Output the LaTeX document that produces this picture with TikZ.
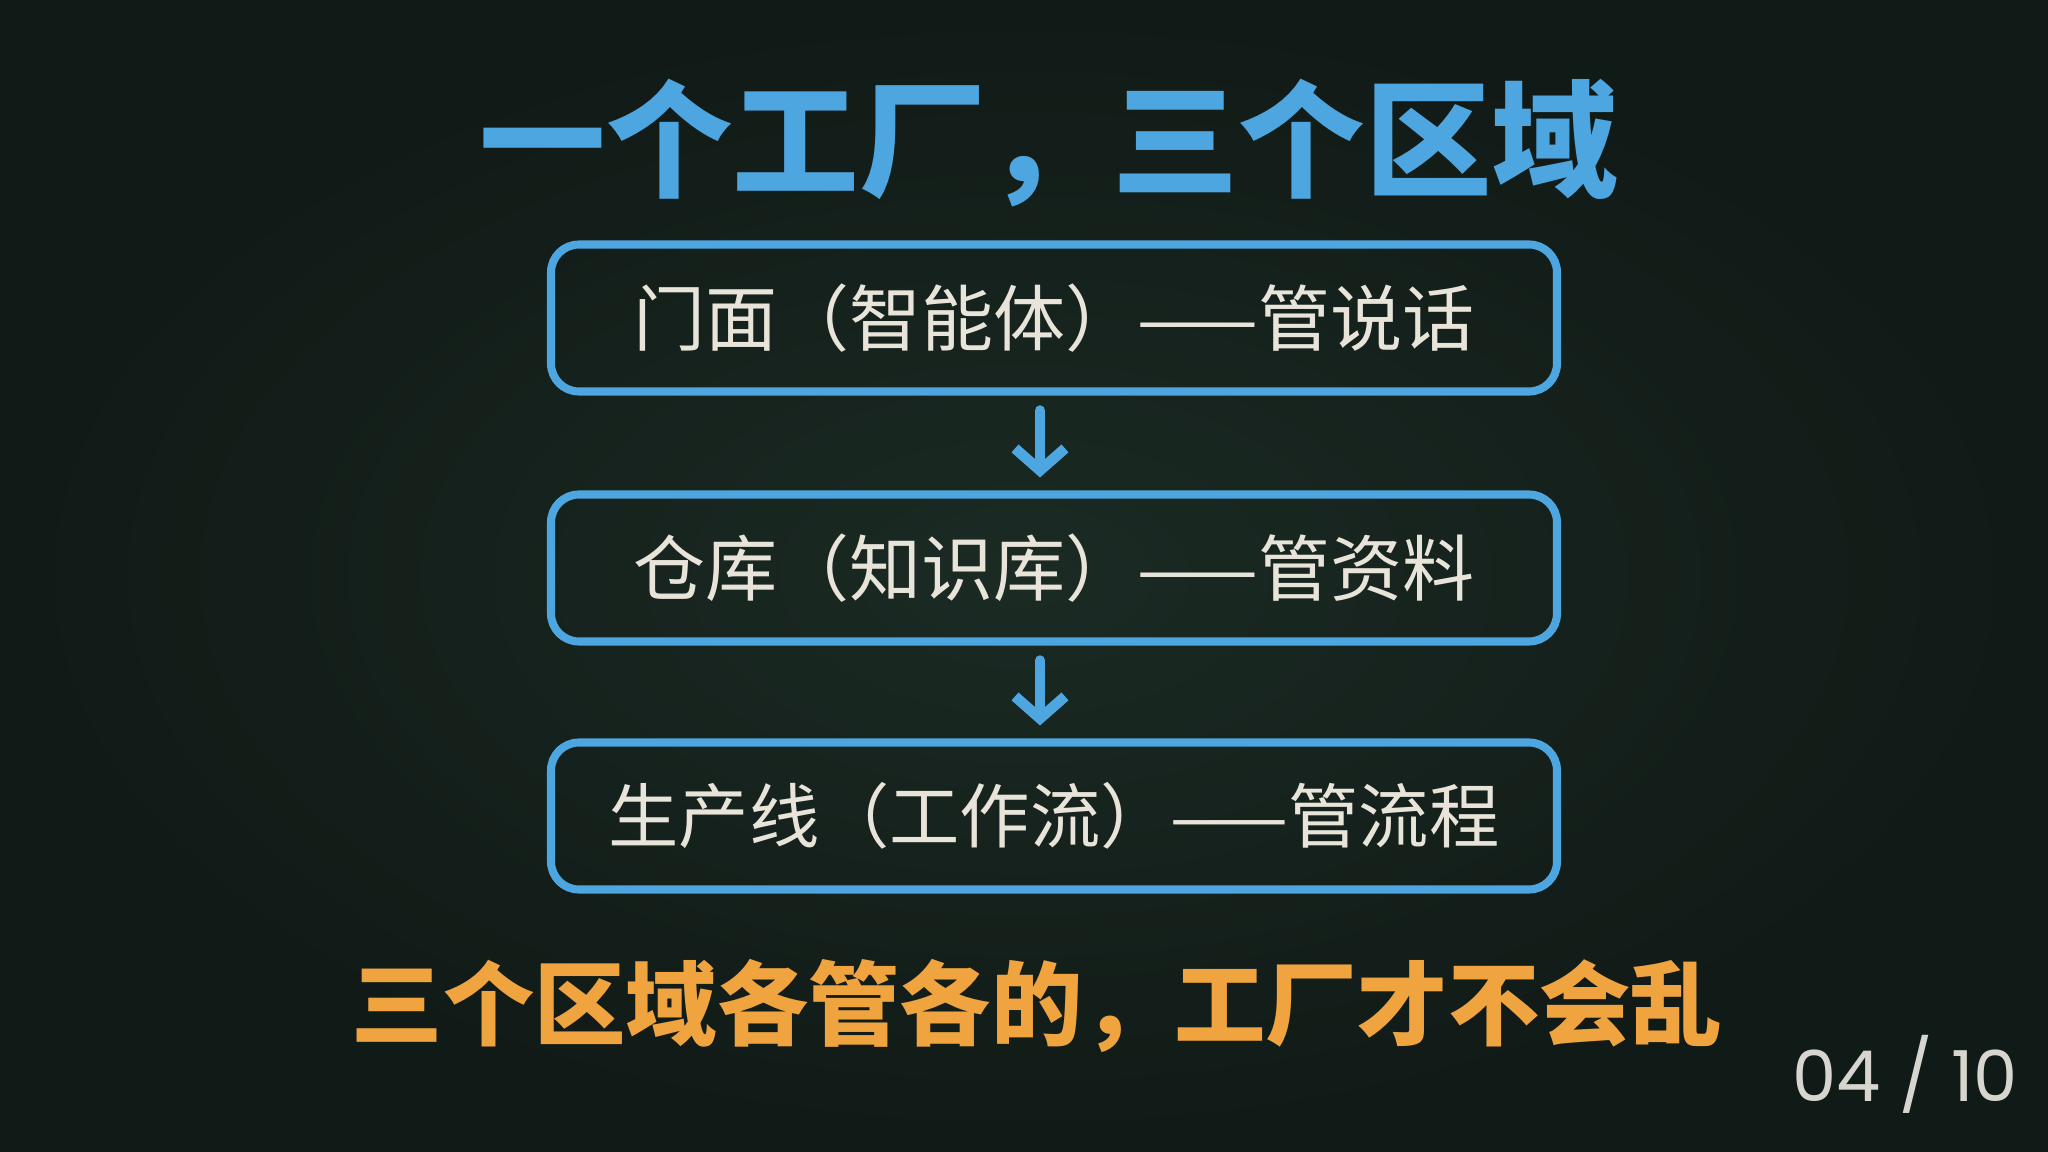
\documentclass[tikz,border=0pt]{standalone}
\usepackage{fontspec}
\newfontfamily\cjk{Noto Sans CJK SC}
\newfontfamily\numfont{Poppins}
\usetikzlibrary{arrows.meta}
\definecolor{board}{RGB}{24,38,32}
\definecolor{boardlight}{RGB}{30,46,39}
\definecolor{boarddark}{RGB}{12,18,16}
\definecolor{chalkblue}{RGB}{78,166,224}
\definecolor{chalkwhite}{RGB}{232,228,218}
\definecolor{chalkorange}{RGB}{240,164,64}
\definecolor{chalkgray}{RGB}{214,214,206}
\tikzset{
  stagebox/.style={draw=chalkblue, line width=2.3pt, rounded corners=0.28cm,
    minimum width=10.06cm, minimum height=1.47cm, inner sep=0pt,
    text=chalkwhite, font=\cjk\fontsize{20.5}{25}\selectfont},
  flowarrow/.style={draw=chalkblue, line width=3pt, line cap=round,
    -{Straight Barb[length=0.22cm, width=0.5cm, line width=3pt]},
    shorten <=0.15cm, shorten >=0.13cm},
  titletext/.style={text=chalkblue, font=\cjk\bfseries\fontsize{36}{40}\selectfont},
  bottomtext/.style={text=chalkorange, font=\cjk\bfseries\fontsize{26}{30}\selectfont},
  pagetext/.style={text=chalkgray, font=\numfont\fontsize{20}{24}\selectfont}
}
\begin{document}
\begin{tikzpicture}
\useasboundingbox (0,0) rectangle (20.48,-11.52);
\fill[board] (0,0) rectangle (20.48,-11.52);
\shade[inner color=boardlight, outer color=boarddark, opacity=0.6] (0,0) rectangle (20.48,-11.52);

\node[titletext] (title) at (10.49,-1.43) {一个工厂，三个区域};

\node[stagebox] (b1) at (10.54,-3.18) {门面（智能体）——管说话};
\node[stagebox] (b2) at (10.54,-5.68) {仓库（知识库）——管资料};
\node[stagebox, font=\cjk\fontsize{20}{24}\selectfont] (b3) at (10.54,-8.16) {生产线（工作流）——管流程};

\draw[flowarrow] ([xshift=-0.14cm]b1.south) -- ([xshift=-0.14cm]b2.north);
\draw[flowarrow] ([xshift=-0.14cm]b2.south) -- ([xshift=-0.14cm]b3.north);

\node[bottomtext] (summary) at (10.37,-10.06) {三个区域各管各的，工厂才不会乱};
\node[pagetext] (page) at (19.05,-10.74) {04 / 10};
\end{tikzpicture}
\end{document}
